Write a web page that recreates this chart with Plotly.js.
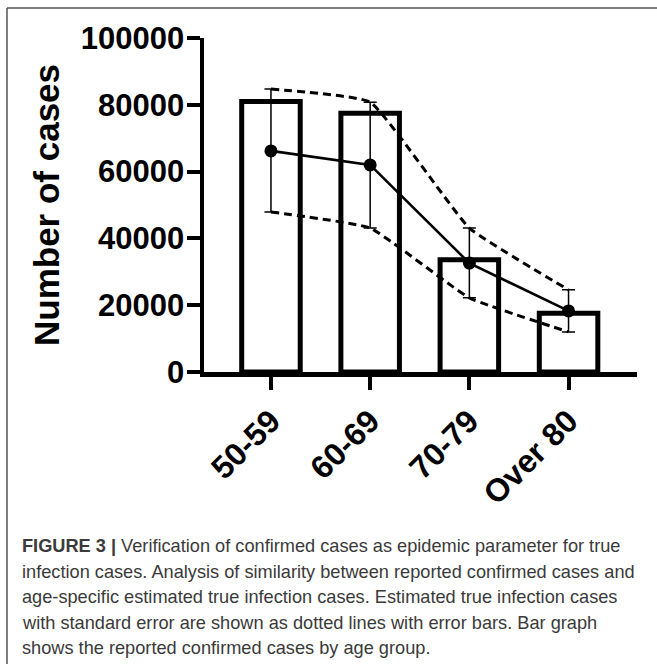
<!DOCTYPE html>
<html>
<head>
<meta charset="utf-8">
<script src="https://cdn.plot.ly/plotly-3.0.1.min.js"></script>
<style>
  html, body { margin: 0; padding: 0; background: #ffffff; }
  #chart { width: 657px; height: 664px; }
</style>
</head>
<body>
<div id="chart"></div>
<script>
// ---- Data ----
const categories = ["50-59", "60-69", "70-79", "Over 80"];
const confirmedCases = [81000, 77500, 33600, 17600];      // bars: reported confirmed cases
const estimatedCases = [66200, 62000, 32600, 18300];      // estimated true infection cases
const estimatedUpper = [84700, 80800, 43100, 24600];      // + standard error
const estimatedLower = [47900, 43100, 22200, 12000];      // - standard error
const yTickValues = [0, 20000, 40000, 60000, 80000, 100000];
const yTickLabels = ["0", "20000", "40000", "60000", "80000", "100000"];
const yAxisTitle = "Number of cases";
const captionLines = [
  "<b>FIGURE 3 |</b> Verification of confirmed cases as epidemic parameter for true",
  "infection cases. Analysis of similarity between reported confirmed cases and",
  "age-specific estimated true infection cases. Estimated true infection cases",
  "with standard error are shown as dotted lines with error bars. Bar graph",
  "shows the reported confirmed cases by age group."
];

// ---- Layout geometry ----
const W = 657, H = 664;
const M = { l: 204, r: 20, t: 38, b: 292 };
const plotW = W - M.l - M.r, plotH = H - M.t - M.b;
const px2paperX = px => (px - M.l) / plotW;
const px2paperY = py => (H - M.b - py) / plotH;

const errPlus = estimatedUpper.map((u, i) => u - estimatedCases[i]);
const errMinus = estimatedLower.map((l, i) => estimatedCases[i] - l);

const FONT = "Liberation Sans, Arial, Helvetica, sans-serif";

const traces = [
  {
    type: "bar",
    x: categories,
    y: confirmedCases,
    width: 0.59,
    marker: { color: "#ffffff", line: { color: "#000000", width: 5 } },
    hoverinfo: "skip"
  },
  {
    type: "scatter", mode: "lines",
    x: categories, y: estimatedUpper,
    line: { color: "#000000", width: 3, dash: "8px,5px", shape: "spline", smoothing: 0.35 },
    hoverinfo: "skip"
  },
  {
    type: "scatter", mode: "lines",
    x: categories, y: estimatedLower,
    line: { color: "#000000", width: 3, dash: "8px,5px", shape: "spline", smoothing: 0.35 },
    hoverinfo: "skip"
  },
  {
    type: "scatter", mode: "lines+markers",
    x: categories, y: estimatedCases,
    line: { color: "#000000", width: 2.6 },
    marker: { color: "#000000", size: 13 },
    error_y: { type: "data", symmetric: false, array: errPlus, arrayminus: errMinus,
               color: "#000000", thickness: 1.5, width: 6.5 },
    hoverinfo: "skip"
  }
];

const annotations = captionLines.map((t, i) => ({
  xref: "paper", yref: "paper",
  x: px2paperX(20), y: px2paperY(546 + i * 25.5),
  xanchor: "left", yanchor: "middle",
  text: t, showarrow: false, align: "left",
  font: { family: FONT, size: 18.2, color: "#3a3a3a" }
}));

const borderColor = "#555555";
const shapes = [
  { type: "line", xref: "paper", yref: "paper",
    x0: px2paperX(7), x1: px2paperX(W + 2), y0: px2paperY(8), y1: px2paperY(8),
    line: { color: borderColor, width: 1.5 } },
  { type: "line", xref: "paper", yref: "paper",
    x0: px2paperX(7), x1: px2paperX(7), y0: px2paperY(8), y1: px2paperY(H + 2),
    line: { color: borderColor, width: 1.5 } }
];

const layout = {
  width: W, height: H,
  margin: M,
  paper_bgcolor: "#ffffff", plot_bgcolor: "#ffffff",
  showlegend: false,
  font: { family: FONT, color: "#000000" },
  xaxis: {
    type: "category",
    range: [-0.675, 3.69],
    showline: true, linecolor: "#000000", linewidth: 4.5,
    ticks: "outside", ticklen: 13, tickwidth: 4, tickcolor: "#000000",
    tickangle: -45,
    tickfont: { family: FONT, size: 32, weight: "bold", color: "#000000" },
    showgrid: false, zeroline: false, fixedrange: true
  },
  yaxis: {
    range: [0, 100000],
    tickmode: "array", tickvals: yTickValues, ticktext: yTickLabels,
    showline: true, linecolor: "#000000", linewidth: 4.5,
    ticks: "outside", ticklen: 13, tickwidth: 4, tickcolor: "#000000",
    ticklabelstandoff: -4,
    tickfont: { family: FONT, size: 31, weight: "bold", color: "#000000" },
    title: { text: yAxisTitle, font: { family: FONT, size: 35, weight: "bold", color: "#000000" }, standoff: 12 },
    showgrid: false, zeroline: false, fixedrange: true
  },
  annotations: annotations,
  shapes: shapes
};

Plotly.newPlot("chart", traces, layout, { staticPlot: true, displayModeBar: false });
</script>
</body>
</html>
